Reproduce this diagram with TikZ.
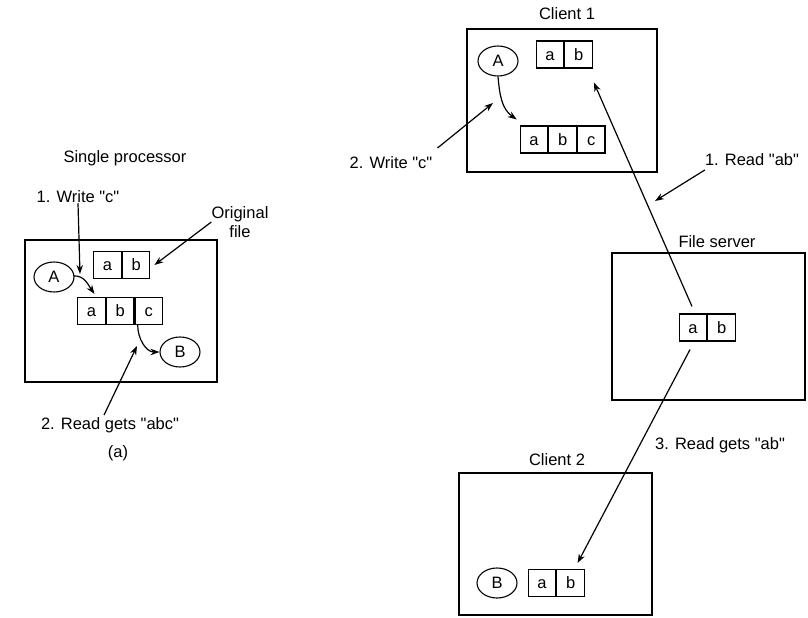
\documentclass[tikz,border=0pt]{standalone}
\usepackage{fontspec}
\setmainfont{Liberation Sans}
\usepackage{tikz}
\usetikzlibrary{
  shapes, shapes.geometric,
  arrows, arrows.meta,
  positioning
}
\newcommand{\qt}[1]{\textquotedbl#1\textquotedbl}
\tikzset{
  % Machine frame
  frame/.style={
    draw=black, line width=1.4pt
  },
  % File cell
  cell/.style={
    rectangle, draw=black, line width=1.1pt,
    minimum width=27.5pt, minimum height=27pt,
    text height=11.5pt, text depth=0pt,
    inner sep=0pt, font=\fontsize{16.5}{19}\selectfont
  },
  % Process circle
  proc/.style={
    ellipse, draw=black, line width=1.1pt,
    minimum width=40pt, minimum height=30pt,
    text height=11.5pt, text depth=0pt,
    inner sep=0pt, font=\fontsize{16.5}{19}\selectfont
  },
  % Arrows
  arr/.style={-{Stealth[length=9pt,width=6.5pt]}, line width=1.2pt},
  % Labels
  tlabel/.style={font=\fontsize{16.5}{19}\selectfont, align=center, inner sep=0pt},
}
\begin{document}
\begin{tikzpicture}[x=1pt, y=-1pt]
  \useasboundingbox (0,0) rectangle (808,618);

  %% (a) Single processor
  \draw[frame] (25,240) rectangle (217,382);
  \node[tlabel] (lsp) at (125,158) {Single processor};
  \node[tlabel] (lwrite) at (78,197) {1. Write \qt{c}};
  \node[tlabel] (lorig) at (240,222) {Original\\file};

  \node[cell] (lab1) at (107.5,265) {a};
  \node[cell, right=0pt of lab1] (lab2) {b};

  \node[cell] (lx1) at (91.5,311) {a};
  \node[cell, right=0pt of lx1] (lx2) {b};
  \node[cell, right=0pt of lx2] (lx3) {c};

  \node[proc] (la) at (54,277) {A};
  \node[proc] (lb) at (180,352) {B};

  \node[tlabel] (lread) at (110,425) {2. Read gets \qt{abc}};
  \node[tlabel] (lcap) at (118,453) {(a)};

  \coordinate (lwtip) at (80,274);
  \coordinate (lrtip) at (137,346);

  \draw[arr] (lwrite.south) -- (lwtip);
  \draw[arr] (lorig.west) -- ([shift={(4,0)}]lab2.east);
  \draw[arr] ([shift={(-1,-1)}]la.east) to[out=5, in=125] ([shift={(3,-3)}]lx1.north);
  \draw[arr] ([shift={(-11,0)}]lx3.south) to[out=-90, in=180] (lb.west);
  \draw[arr] ([shift={(-6,-2)}]lread.north) -- (lrtip);

  %% Client 1
  \draw[frame] (467,29) rectangle (657,172);
  \node[tlabel] (c1lbl) at (567,14) {Client 1};

  \node[proc] (ra) at (498,61) {A};
  \node[cell] (cb1) at (550,54.5) {a};
  \node[cell, right=0pt of cb1] (cb2) {b};

  \node[cell] (cx1) at (534,139.5) {a};
  \node[cell, right=0pt of cx1] (cx2) {b};
  \node[cell, right=0pt of cx2] (cx3) {c};

  \node[tlabel] (rwrite) at (391,163) {2. Write \qt{c}};
  \node[tlabel] (rread1) at (752,160) {1. Read \qt{ab}};

  \coordinate (rwtip) at (493,103);
  \coordinate (rrtip) at (655,201);

  \draw[arr] (ra.south) to[out=-85, in=145] ([shift={(-3,-6)}]cx1.north west);
  \draw[arr] ([shift={(5,-15)}]rwrite.east) -- (rwtip);
  \draw[arr] ([shift={(0,10)}]rread1.west) -- (rrtip);

  %% File server
  \draw[frame] (612,253) rectangle (805,400);
  \node[tlabel] (fslbl) at (717,242) {File server};
  \node[cell] (fs1) at (693,327.5) {a};
  \node[cell, right=0pt of fs1] (fs2) {b};

  \node[tlabel] (rread3) at (720,445) {3. Read gets \qt{ab}};

  %% Client 2
  \draw[frame] (459,473) rectangle (652,615);
  \node[tlabel] (c2lbl) at (557,460) {Client 2};
  \node[proc] (rb) at (497,583) {B};
  \node[cell] (db1) at (542,583) {a};
  \node[cell, right=0pt of db1] (db2) {b};

  %% Server reads
  \draw[arr] ([shift={(-1,-7)}]fs1.north) -- ([shift={(1,14)}]cb2.south east);
  \draw[arr] ([shift={(-3,8)}]fs1.south) -- ([shift={(7,-6)}]db2.north);

\end{tikzpicture}
\end{document}
